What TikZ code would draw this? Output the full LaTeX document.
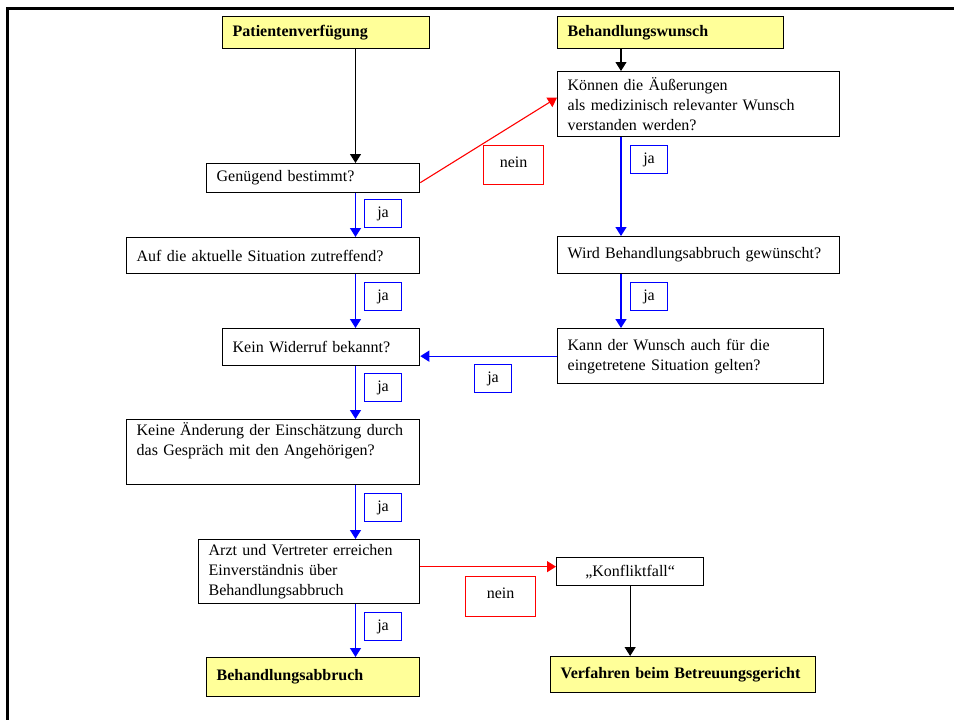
\documentclass[tikz,border=0pt]{standalone}
\usepackage{fontspec}
\setmainfont{Liberation Serif}
\usetikzlibrary{arrows.meta}

\definecolor{hellgelb}{RGB}{255,255,153}

\begin{document}
\begin{tikzpicture}[
        x=1pt, y=-1pt,
        frage/.style={draw, line width=1.3pt, anchor=north west, align=left, inner xsep=10pt, inner ysep=0pt, font=\fontsize{16}{20}\selectfont},
        ziel/.style={frage, fill=hellgelb, font=\fontsize{16}{20}\selectfont\bfseries},
        jabox/.style={draw=blue, line width=1.1pt, anchor=north west, minimum width=37pt, minimum height=28pt, inner sep=0pt, font=\fontsize{16}{20}\selectfont},
        neinbox/.style={draw=red, line width=1.1pt, anchor=north west, inner sep=0pt, font=\fontsize{16}{20}\selectfont},
        >={Triangle[length=9pt,width=11pt]}
    ]
        \useasboundingbox (0,0) rectangle (954,720);
        \draw[line width=3pt] (7,720) -- (7,8) -- (954,8);

        % Axes for the vertical arrows
        \coordinate (achseL) at (355.5,0);
        \coordinate (achseR) at (621,0);

        % Left column
        \node[ziel, text width=187pt, minimum height=32pt] (pv) at (222,16) {Patientenverfügung};
        \node[frage, text width=193pt, minimum height=29pt] (gen) at (206,163) {Genügend bestimmt?};
        \node[frage, text width=273pt, minimum height=36pt] (auf) at (126,237) {Auf die aktuelle Situation zutreffend?};
        \node[frage, text width=177pt, minimum height=37pt] (kein) at (222,328) {Kein Widerruf bekannt?};
        \node[frage, text width=273pt, minimum height=65pt] (keine) at (126,419) {Keine Änderung der Einschätzung durch\\das Gespräch mit den Angehörigen?\\ \strut};
        \node[frage, text width=201pt, minimum height=64pt] (arzt) at (198,539) {Arzt und Vertreter erreichen\\Einverständnis über\\Behandlungsabbruch};
        \node[ziel, text width=193pt, minimum height=39pt] (abbruch) at (206,657) {Behandlungsabbruch};

        % Right column
        \node[ziel, text width=206pt, minimum height=32pt] (bw) at (557,16) {Behandlungswunsch};
        \node[frage, text width=262pt, minimum height=65pt] (koennen) at (557,71) {Können die Äußerungen\\als medizinisch relevanter Wunsch\\verstanden werden?};
        \node[frage, text width=262pt, minimum height=37pt] (wird) at (557,236) {Wird Behandlungsabbruch gewünscht?};
        \node[frage, text width=246pt, minimum height=55pt] (kann) at (557,328) {Kann der Wunsch auch für die\\eingetretene Situation gelten?};
        \node[frage, align=center, text width=127pt, minimum height=28pt] (konflikt) at (556,557) {„Konfliktfall“};
        \node[ziel, text width=245pt, minimum height=36pt] (verfahren) at (550,656) {Verfahren beim Betreuungsgericht};

        % Answer labels
        \node[jabox] (ja1) at (364,199) {ja};
        \node[jabox] (ja2) at (364,282) {ja};
        \node[jabox] (ja3) at (364,373) {ja};
        \node[jabox] (ja4) at (364,493) {ja};
        \node[jabox] (ja5) at (364,612) {ja};
        \node[jabox] (ja6) at (630,145) {ja};
        \node[jabox] (ja7) at (630,282) {ja};
        \node[jabox] (ja8) at (474,364) {ja};
        \node[neinbox, minimum width=60pt, minimum height=39pt, text depth=6pt] (nein1) at (483,145) {nein};
        \node[neinbox, minimum width=70pt, minimum height=40pt, text depth=6pt] (nein2) at (465,576) {nein};

        % Arrows
        \draw[->, line width=1.1pt] (pv.south -| achseL) -- (gen.north -| achseL);
        \draw[->, line width=1.1pt] (bw.south -| achseR) -- (koennen.north -| achseR);
        \draw[->, line width=1.3pt, blue] (gen.south -| achseL) -- (auf.north -| achseL);
        \draw[->, line width=1.3pt, blue] (auf.south -| achseL) -- (kein.north -| achseL);
        \draw[->, line width=1.3pt, blue] (kein.south -| achseL) -- (keine.north -| achseL);
        \draw[->, line width=1.3pt, blue] (keine.south -| achseL) -- (arzt.north -| achseL);
        \draw[->, line width=1.3pt, blue] (arzt.south -| achseL) -- (abbruch.north -| achseL);
        \draw[->, line width=1.3pt, blue] (koennen.south -| achseR) -- (wird.north -| achseR);
        \draw[->, line width=1.3pt, blue] (wird.south -| achseR) -- (kann.north -| achseR);
        \draw[->, line width=1.3pt, blue] (kann.west) -- (kann.west -| kein.east);
        \draw[->, line width=1.1pt, red] ([yshift=-4.5pt]gen.east) -- ([yshift=6.5pt]koennen.west);
        \draw[->, line width=1.1pt, red] ([yshift=5pt]arzt.east) -- ([yshift=5pt]konflikt.west);
        \draw[->, line width=1.1pt] (konflikt.south) -- (konflikt.south |- verfahren.north);
    \end{tikzpicture}
\end{document}
